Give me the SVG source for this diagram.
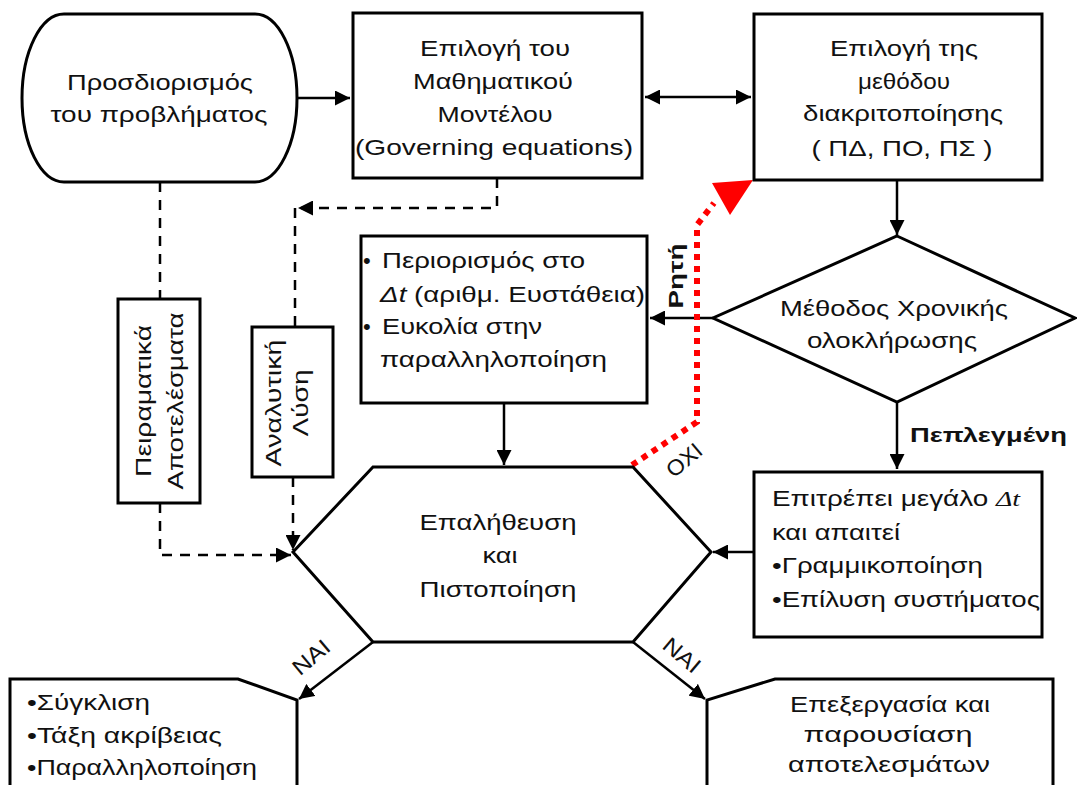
<svg xmlns="http://www.w3.org/2000/svg" width="1077" height="785" viewBox="0 0 1077 785">
<style>
.s{fill:#fff;stroke:#000;stroke-width:3}
.t{font-family:"Liberation Sans",Arial,sans-serif;font-size:22px;fill:#111}
.c{text-anchor:middle}
.b{font-weight:bold;font-size:21px}
.l{fill:none;stroke:#000;stroke-width:2.5}
.d{fill:none;stroke:#000;stroke-width:2.5;stroke-dasharray:10 8}
.r{fill:none;stroke:#f00;stroke-width:6;stroke-dasharray:6 6}
.it{font-family:"Liberation Serif","Times New Roman",serif;font-style:italic}
</style>
<defs>
<marker id="ab" viewBox="0 0 10 10" refX="10" refY="5" markerWidth="6" markerHeight="6" orient="auto-start-reverse">
<path d="M0,0 L10,5 L0,10 z" fill="#000"/>
</marker>
</defs>
<rect width="1077" height="785" fill="#fff"/>

<g id="connectors">
<path class="l" d="M297,98 H350" marker-end="url(#ab)"/>
<path class="l" d="M645,97 H751" marker-start="url(#ab)" marker-end="url(#ab)"/>
<path class="l" d="M897,180 V235" marker-end="url(#ab)"/>
<path class="l" d="M713,318 H650" marker-end="url(#ab)"/>
<path class="l" d="M897,402 V469" marker-end="url(#ab)"/>
<path class="l" d="M504,403 V465" marker-end="url(#ab)"/>
<path class="l" d="M754,552 H713" marker-end="url(#ab)"/>
<path class="l" d="M373,642 L299,699" marker-end="url(#ab)"/>
<path class="l" d="M633,642 L705,699" marker-end="url(#ab)"/>
<path class="d" d="M160,182 V299"/>
<path class="d" d="M160,503 V555 H291" marker-end="url(#ab)"/>
<path class="d" d="M497,178 V208 H298" marker-end="url(#ab)"/>
<path class="d" d="M295,208 V327"/>
<path class="d" d="M293,477 V550" marker-end="url(#ab)"/>
<path class="r" d="M632,465 L697,422 V225 L714,203"/>
<polygon points="712,183 753,180 730,215" fill="#f00"/>
<text class="t b" transform="translate(683,276) rotate(-90)" text-anchor="middle" font-size="25" textLength="65" lengthAdjust="spacingAndGlyphs">Ρητή</text>
<text class="t b" x="910" y="442" textLength="157" lengthAdjust="spacingAndGlyphs">Πεπλεγμένη</text>
<text class="t" transform="translate(689,466) rotate(-40)" text-anchor="middle" font-size="23" textLength="40" lengthAdjust="spacingAndGlyphs">ΟΧΙ</text>
<text class="t" transform="translate(316,663) rotate(-40)" text-anchor="middle" font-size="23" textLength="42" lengthAdjust="spacingAndGlyphs">ΝΑΙ</text>
<text class="t" transform="translate(677,661) rotate(40)" text-anchor="middle" font-size="23" textLength="42" lengthAdjust="spacingAndGlyphs">ΝΑΙ</text>
</g>

<g id="n-problem">
<path class="s" d="M64,14 H255 A42,84 0 0 1 255,182 H64 A42,84 0 0 1 64,14 Z"/>
<text class="t c" x="160" y="90" textLength="186" lengthAdjust="spacingAndGlyphs">Προσδιορισμός</text>
<text class="t c" x="159" y="122" textLength="217" lengthAdjust="spacingAndGlyphs">του προβλήματος</text>
</g>

<g id="n-model">
<rect class="s" x="353" y="13" width="289" height="165"/>
<text class="t c" x="495" y="56" textLength="150" lengthAdjust="spacingAndGlyphs">Επιλογή του</text>
<text class="t c" x="493" y="89" textLength="160" lengthAdjust="spacingAndGlyphs">Μαθηματικού</text>
<text class="t c" x="495" y="122" textLength="115" lengthAdjust="spacingAndGlyphs">Μοντέλου</text>
<text class="t c" x="494" y="155" textLength="278" lengthAdjust="spacingAndGlyphs">(Governing equations)</text>
</g>

<g id="n-method">
<rect class="s" x="754" y="14" width="288" height="166"/>
<text class="t c" x="904" y="56" textLength="148" lengthAdjust="spacingAndGlyphs">Επιλογή της</text>
<text class="t c" x="904" y="89" textLength="92" lengthAdjust="spacingAndGlyphs">μεθόδου</text>
<text class="t c" x="903" y="121" textLength="200" lengthAdjust="spacingAndGlyphs">διακριτοποίησης</text>
<text class="t c" x="902" y="156" textLength="181" lengthAdjust="spacingAndGlyphs">( ΠΔ, ΠΟ, ΠΣ )</text>
</g>

<g id="n-time">
<polygon class="s" points="897,236 1075,318 897,402 713,318"/>
<text class="t c" x="894" y="316" textLength="228" lengthAdjust="spacingAndGlyphs">Μέθοδος Χρονικής</text>
<text class="t c" x="892" y="348" textLength="170" lengthAdjust="spacingAndGlyphs">ολοκλήρωσης</text>
</g>

<g id="n-explicit">
<rect class="s" x="361" y="236" width="286" height="167"/>
<text class="t" x="363" y="268">•</text>
<text class="t" x="382" y="268" textLength="203" lengthAdjust="spacingAndGlyphs">Περιορισμός στο</text>
<text class="t" x="380" y="302" textLength="265" lengthAdjust="spacingAndGlyphs"><tspan font-style="italic">Δt</tspan> (αριθμ. Ευστάθεια)</text>
<text class="t" x="363" y="334">•</text>
<text class="t" x="382" y="334" textLength="160" lengthAdjust="spacingAndGlyphs">Ευκολία στην</text>
<text class="t" x="380" y="367" textLength="227" lengthAdjust="spacingAndGlyphs">παραλληλοποίηση</text>
</g>

<g id="n-implicit">
<rect class="s" x="754" y="472" width="288" height="165"/>
<text class="t" x="772" y="506" textLength="248" lengthAdjust="spacingAndGlyphs">Επιτρέπει μεγάλο <tspan class="it">Δt</tspan></text>
<text class="t" x="772" y="540" textLength="128" lengthAdjust="spacingAndGlyphs">και απαιτεί</text>
<text class="t" x="772" y="573" textLength="211" lengthAdjust="spacingAndGlyphs">•Γραμμικοποίηση</text>
<text class="t" x="772" y="607" textLength="268" lengthAdjust="spacingAndGlyphs">•Επίλυση συστήματος</text>
</g>

<g id="n-verify">
<polygon class="s" points="373,467 633,467 711,552 633,642 373,642 293,552"/>
<text class="t c" x="498" y="530" textLength="157" lengthAdjust="spacingAndGlyphs">Επαλήθευση</text>
<text class="t c" x="500" y="563" textLength="35" lengthAdjust="spacingAndGlyphs">και</text>
<text class="t c" x="498" y="597" textLength="157" lengthAdjust="spacingAndGlyphs">Πιστοποίηση</text>
</g>

<g id="n-experimental">
<rect class="s" x="118" y="299" width="82" height="204"/>
<text class="t c" transform="translate(151,401) rotate(-90)" textLength="152" lengthAdjust="spacingAndGlyphs">Πειραματικά</text>
<text class="t c" transform="translate(183,401) rotate(-90)" textLength="177" lengthAdjust="spacingAndGlyphs">Αποτελέσματα</text>
</g>

<g id="n-analytic">
<rect class="s" x="252" y="327" width="81" height="150"/>
<text class="t c" transform="translate(281,403) rotate(-90)" textLength="127" lengthAdjust="spacingAndGlyphs">Αναλυτική</text>
<text class="t c" transform="translate(308,403) rotate(-90)" textLength="67" lengthAdjust="spacingAndGlyphs">Λύση</text>
</g>

<g id="n-convergence">
<path class="s" d="M10,800 V679 H238 L297,700 V800"/>
<text class="t" x="27" y="710" textLength="123" lengthAdjust="spacingAndGlyphs">•Σύγκλιση</text>
<text class="t" x="27" y="743" textLength="195" lengthAdjust="spacingAndGlyphs">•Τάξη ακρίβειας</text>
<text class="t" x="27" y="775" textLength="230" lengthAdjust="spacingAndGlyphs">•Παραλληλοποίηση</text>
</g>

<g id="n-post">
<path class="s" d="M707,800 V700 L775,679 H1053 V800"/>
<text class="t c" x="890" y="712" textLength="200" lengthAdjust="spacingAndGlyphs">Επεξεργασία και</text>
<text class="t c" x="888" y="742" textLength="169" lengthAdjust="spacingAndGlyphs">παρουσίαση</text>
<text class="t c" x="889" y="772" textLength="202" lengthAdjust="spacingAndGlyphs">αποτελεσμάτων</text>
</g>
</svg>
